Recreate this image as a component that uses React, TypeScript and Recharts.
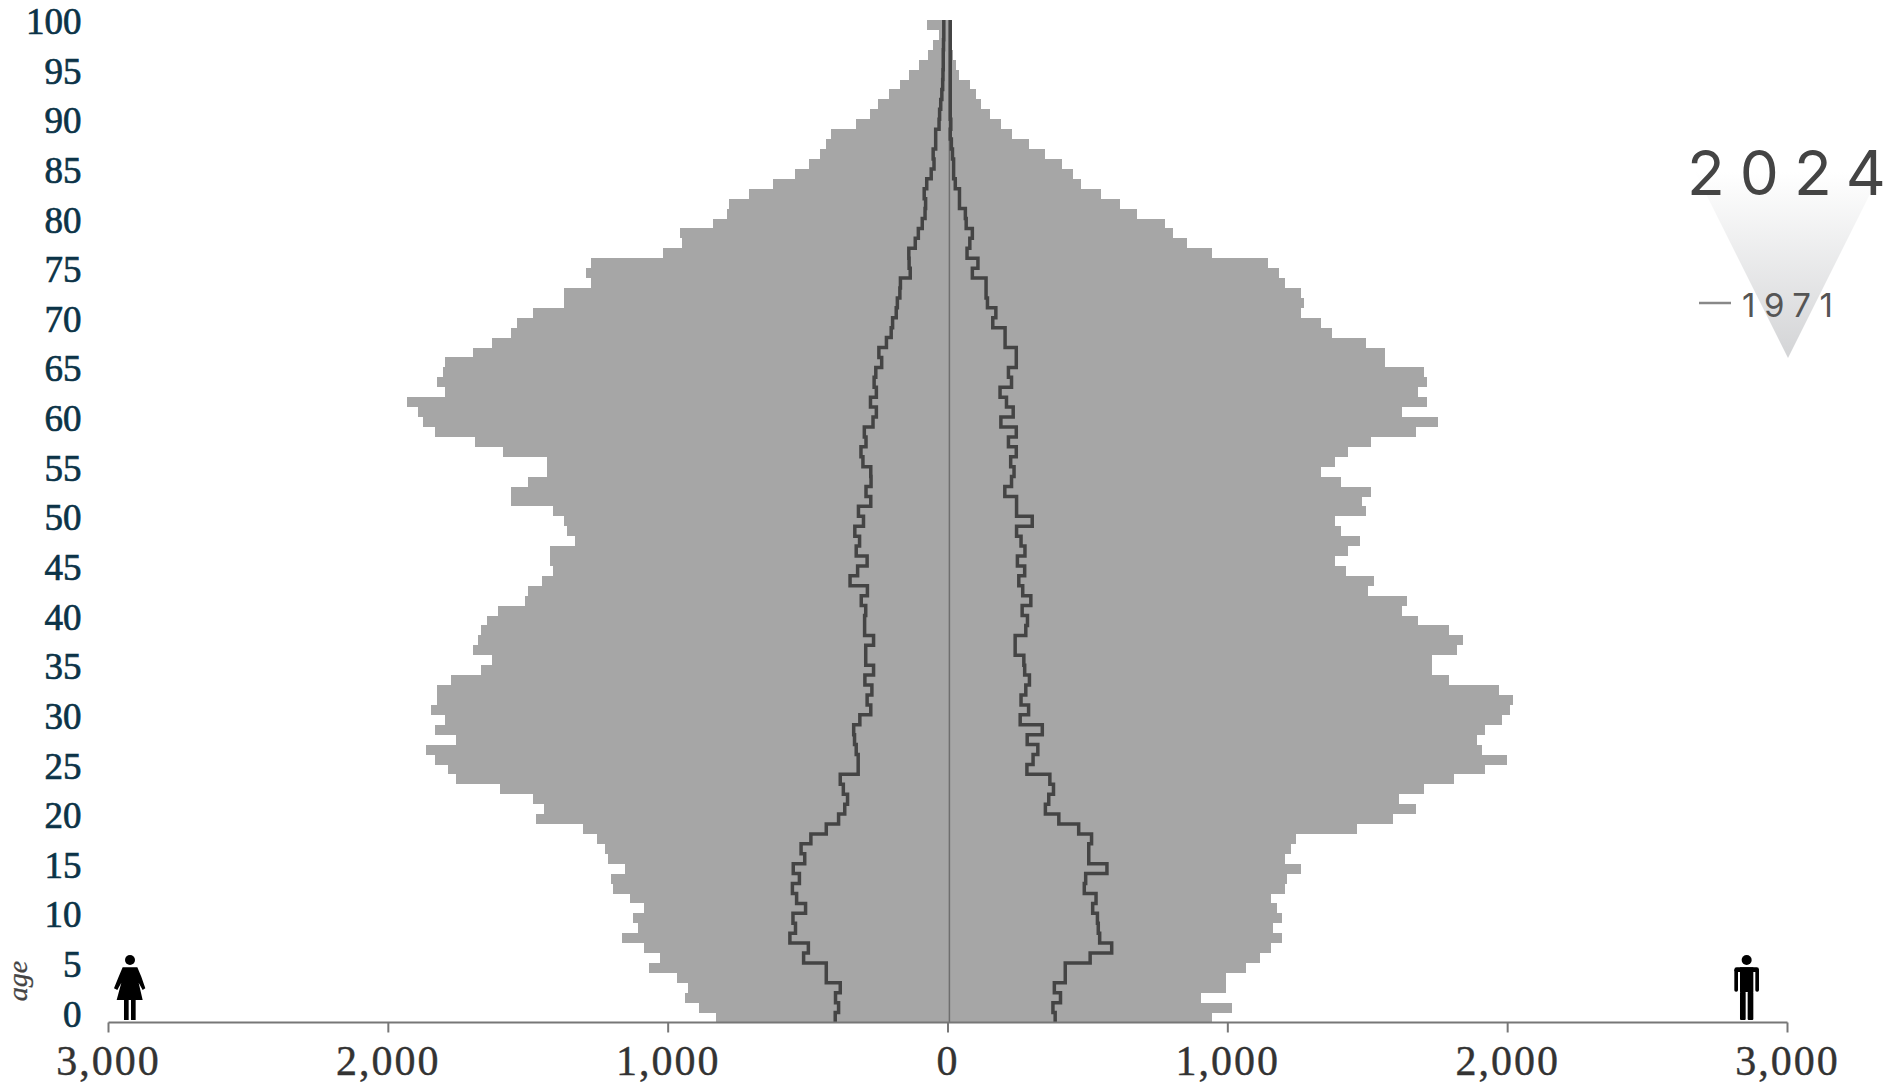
import React from "react";
import { ComposedChart, Bar, Line, XAxis, YAxis, ReferenceLine } from "recharts";

const ages = Array.from({ length: 101 }, (_, i) => 100 - i);

const female2024 = [
  74, 32, 52, 71, 102, 141, 171, 210, 249, 278,
  329, 417, 436, 456, 496, 545, 624, 712, 782, 791,
  841, 958, 949, 1019, 1275, 1294, 1275, 1373, 1373, 1482,
  1540, 1561, 1630, 1698, 1797, 1806, 1826, 1797, 1934, 1895,
  1876, 1835, 1689, 1589, 1433, 1433, 1501, 1561, 1561, 1413,
  1373, 1363, 1334, 1422, 1422, 1413, 1452, 1501, 1512, 1609,
  1649, 1668, 1679, 1698, 1630, 1668, 1777, 1826, 1826, 1846,
  1797, 1835, 1758, 1865, 1835, 1788, 1758, 1600, 1482, 1443,
  1472, 1304, 1255, 1225, 1215, 1155, 1205, 1196, 1136, 1088,
  1127, 1108, 1166, 1088, 1028, 1067, 969, 930, 939, 890, 830,
];

const male2024 = [
  10, 4, 8, 17, 27, 39, 78, 99, 119, 149,
  190, 229, 289, 348, 408, 447, 477, 546, 616, 676,
  775, 805, 855, 944, 1144, 1183, 1203, 1263, 1273, 1263,
  1332, 1373, 1492, 1562, 1562, 1701, 1710, 1681, 1710, 1621,
  1750, 1671, 1511, 1431, 1382, 1332, 1403, 1511, 1481, 1492,
  1382, 1403, 1472, 1431, 1382, 1421, 1522, 1502, 1641, 1621,
  1681, 1790, 1839, 1820, 1731, 1731, 1790, 1969, 2020, 2009,
  1979, 1919, 1889, 1908, 1999, 1919, 1809, 1701, 1610, 1671,
  1591, 1461, 1244, 1224, 1203, 1263, 1213, 1203, 1154, 1174,
  1193, 1163, 1193, 1154, 1114, 1064, 995, 995, 905, 1014, 944,
];

const female1971 = [
  15, 15, 16, 17, 17, 18, 19, 22, 26, 30,
  32, 44, 44, 53, 50, 60, 76, 85, 80, 82,
  92, 106, 117, 140, 139, 135, 170, 172, 181, 185,
  198, 203, 220, 247, 237, 258, 264, 256, 277, 256,
  268, 299, 293, 311, 304, 276, 275, 293, 276, 320,
  302, 333, 316, 328, 289, 323, 350, 288, 310, 294,
  298, 298, 266, 294, 294, 266, 297, 272, 289, 276,
  315, 337, 334, 328, 321, 321, 385, 374, 359, 369,
  391, 435, 490, 525, 512, 553, 531, 556, 541, 509,
  554, 545, 565, 499, 516, 435, 435, 385, 402, 391, 403,
];

const male1971 = [
  8, 8, 8, 8, 8, 8, 8, 8, 8, 8,
  10, 8, 12, 16, 20, 20, 26, 41, 41, 62,
  65, 87, 78, 68, 107, 87, 136, 136, 141, 171,
  160, 204, 204, 244, 244, 216, 227, 186, 209, 233,
  189, 244, 216, 244, 224, 236, 227, 203, 245, 245,
  301, 245, 261, 275, 248, 274, 253, 267, 296, 265,
  284, 278, 240, 240, 271, 274, 291, 278, 261, 288,
  258, 337, 283, 321, 304, 282, 364, 377, 360, 348,
  396, 467, 513, 503, 503, 568, 492, 487, 529, 517,
  534, 537, 542, 585, 508, 419, 419, 380, 402, 375, 383,
];

const xTicks = [-3000, -2000, -1000, 0, 1000, 2000, 3000];

const rows = ages.map((age, i) => ({
  age,
  female: -female2024[i],
  male: male2024[i],
  female71: -female1971[i],
  male71: male1971[i],
}));

// Steps that run along each age band: every value holds for the full height of its row.
const rowStep = (context: any) => {
  let pts: [number, number][] = [];
  return {
    areaStart() {},
    areaEnd() {},
    lineStart() {
      pts = [];
    },
    point(x: number, y: number) {
      pts.push([+x, +y]);
    },
    lineEnd() {
      if (pts.length < 2) return;
      const h = pts[1][1] - pts[0][1];
      context.moveTo(pts[0][0], pts[0][1] - h / 2);
      pts.forEach((p, i) => {
        context.lineTo(p[0], p[1] + h / 2);
        if (i < pts.length - 1) context.lineTo(pts[i + 1][0], p[1] + h / 2);
      });
    },
  };
};

const SERIF = "'Liberation Serif', serif";
const SANS = "Inter, sans-serif";

function Overlay() {
  return (
    <svg
      width={1898}
      height={1083}
      style={{ position: "absolute", left: 0, top: 0, pointerEvents: "none" }}
    >
      <defs>
        <linearGradient id="tri" x1="0" y1="0" x2="0" y2="1">
          <stop offset="0" stopColor="#ffffff" />
          <stop offset="1" stopColor="#d3d4d6" />
        </linearGradient>
      </defs>
      <polygon points="1695,172 1881,172 1788,358" fill="url(#tri)" />
      <text x={1687} y={194.5} dx="0 15 15 15" fontFamily={SANS} fontSize={62} fontWeight={400} fill="#444">
        2024
      </text>
      <line x1={1699} x2={1731} y1={303} y2={303} stroke="#888" strokeWidth={2.5} />
      <text x={1742} y={317} fontFamily={SANS} fontSize={33} fontWeight={400} fill="#555" letterSpacing={8.5}>
        1971
      </text>
      <text
        transform="translate(27,981) rotate(-90)"
        textAnchor="middle"
        fontFamily={SERIF}
        fontStyle="italic"
        fontSize={28}
        fill="#444"
        stroke="#444"
        strokeWidth={0.3}
      >
        age
      </text>
      <g transform="translate(0,920) scale(0.3333)" fill="#000">
        <circle cx={390} cy={120} r={15} />
        <polygon points="368,142 412,142 424,170 436,205 428,210 416,188 428,240 350,240 364,188 352,210 342,205 356,170" />
        <rect x={372} y={240} width={14} height={60} />
        <rect x={393} y={240} width={14} height={60} />
      </g>
      <g transform="translate(1700,930) scale(0.3333)" fill="#000">
        <circle cx={140} cy={90} r={15} />
        <rect x={103} y={112} width={74} height={14} rx={7} />
        <rect x={103} y={116} width={11} height={69} rx={5} />
        <rect x={166} y={116} width={11} height={69} rx={5} />
        <rect x={120} y={112} width={40} height={74} />
        <rect x={120} y={185} width={17} height={85} rx={3} />
        <rect x={143} y={185} width={17} height={85} rx={3} />
      </g>
    </svg>
  );
}

export default function App() {
  return (
    <div style={{ position: "absolute", left: 0, top: 0, width: 1898, height: 1083, background: "#fff" }}>
      <ComposedChart
        width={1898}
        height={1083}
        data={rows}
        layout="vertical"
        stackOffset="sign"
        barCategoryGap={0}
        barGap={0}
        margin={{ top: 20, right: 110.5, bottom: 0.5, left: 0 }}
      >
        <XAxis
          type="number"
          domain={[-3000, 3000]}
          ticks={xTicks}
          height={60}
          interval={0}
          tickFormatter={(v: number) => Math.abs(v).toLocaleString("en-US")}
          axisLine={{ stroke: "#777", strokeWidth: 2 }}
          tickLine={{ stroke: "#777", strokeWidth: 2 }}
          tickSize={10}
          tickMargin={13}
          tick={{ fontFamily: SERIF, fontSize: 42, fill: "#333", letterSpacing: 2, stroke: "#333", strokeWidth: 0.4 }}
        />
        <YAxis
          type="category"
          dataKey="age"
          width={108.5}
          interval={4}
          axisLine={false}
          tickLine={false}
          tickSize={0}
          tickMargin={27}
          tick={{ fontFamily: SERIF, fontSize: 37, fill: "#0b3347", stroke: "#0b3347", strokeWidth: 0.7, dy: -4 }}
        />
        <Bar dataKey="female" stackId="s" fill="#a6a6a6" shapeRendering="crispEdges" isAnimationActive={false} />
        <Bar dataKey="male" stackId="s" fill="#a6a6a6" shapeRendering="crispEdges" isAnimationActive={false} />
        <ReferenceLine x={5} stroke="#6e6e6e" strokeWidth={1.5} />
        <Line dataKey="female71" type={rowStep as any} stroke="#444" strokeWidth={3.5} dot={false} isAnimationActive={false} />
        <Line dataKey="male71" type={rowStep as any} stroke="#444" strokeWidth={3.5} dot={false} isAnimationActive={false} />
      </ComposedChart>
      <Overlay />
    </div>
  );
}
